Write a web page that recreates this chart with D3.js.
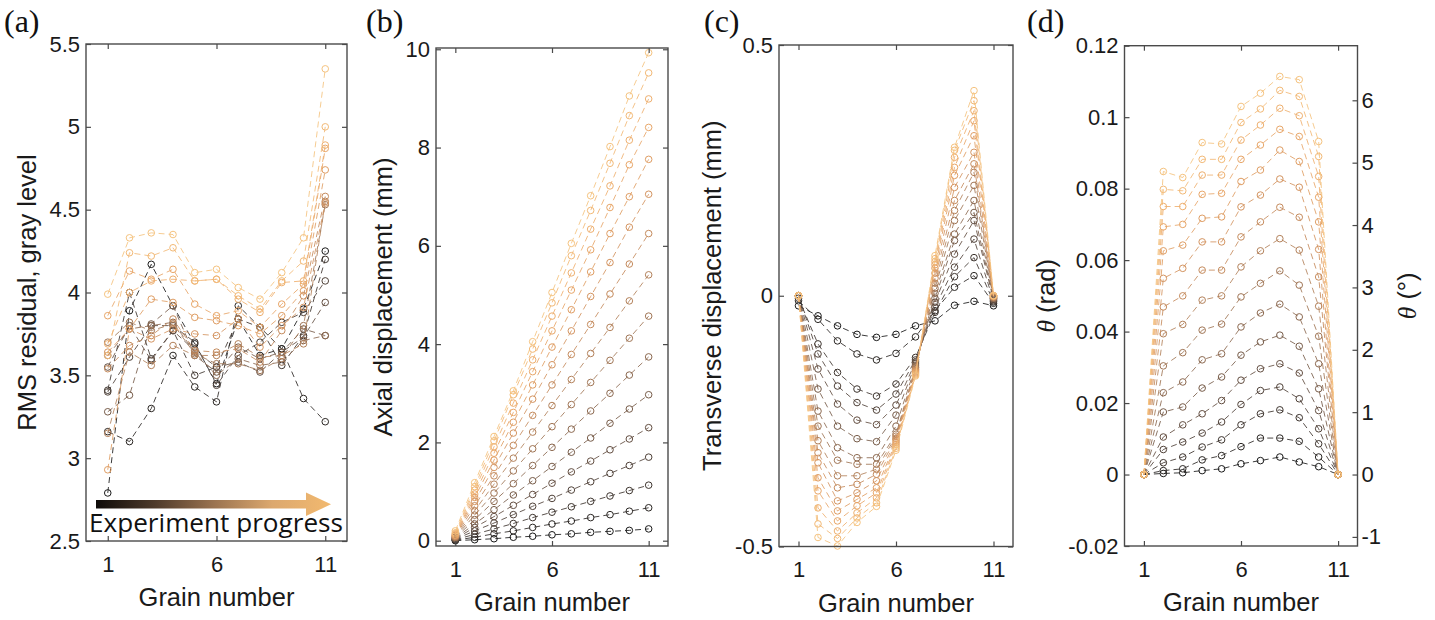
<!DOCTYPE html>
<html>
<head>
<meta charset="utf-8">
<script src="https://cdn.jsdelivr.net/npm/d3@7"></script>
<style>
  html, body { margin: 0; padding: 0; background: #fff; }
  svg { display: block; }
</style>
</head>
<body>
<svg id="fig" width="1435" height="620"></svg>
<script>
// Grain numbers along the column and the x tick values
const grains = [1, 2, 3, 4, 5, 6, 7, 8, 9, 10, 11];
const grainTicks = [1, 6, 11];

// (a) RMS residual of the correlation, gray level — one row per load step (early → late)
const rmsResidual = [
  [2.79, 3.89, 4.17, 3.92, 3.69, 3.45, 3.84, 3.62, 3.66, 3.90, 4.25],
  [3.16, 3.10, 3.30, 3.62, 3.43, 3.34, 3.92, 3.79, 3.66, 3.36, 3.22],
  [3.41, 4.00, 3.60, 3.77, 3.50, 3.55, 3.84, 3.79, 3.56, 3.74, 4.20],
  [3.40, 3.61, 3.80, 3.80, 3.70, 3.44, 3.62, 3.70, 3.82, 3.88, 4.07],
  [3.55, 3.80, 3.59, 3.77, 3.65, 3.55, 3.58, 3.52, 3.64, 3.73, 3.94],
  [3.28, 3.38, 3.81, 3.92, 3.62, 3.52, 3.67, 3.60, 3.64, 3.78, 3.74],
  [3.62, 3.78, 3.80, 3.82, 3.64, 3.50, 3.60, 3.56, 3.58, 3.71, 3.74],
  [3.70, 3.82, 3.77, 3.81, 3.63, 3.57, 3.57, 3.53, 3.60, 3.80, 4.53],
  [3.15, 3.64, 3.56, 3.68, 3.62, 3.62, 3.69, 3.61, 3.62, 3.69, 4.55],
  [3.54, 3.68, 3.74, 3.84, 3.65, 3.64, 3.66, 3.58, 3.77, 3.98, 4.58],
  [3.64, 3.78, 3.72, 3.78, 3.75, 3.74, 3.84, 3.67, 3.80, 3.91, 4.54],
  [2.93, 3.78, 3.96, 3.94, 3.85, 3.83, 3.80, 3.75, 3.86, 4.01, 4.74],
  [3.86, 4.13, 4.08, 4.14, 3.93, 3.86, 3.89, 3.79, 3.93, 4.05, 4.87],
  [3.69, 4.00, 4.07, 4.08, 4.07, 4.08, 3.96, 3.88, 4.06, 4.07, 4.89],
  [3.62, 4.24, 4.22, 4.27, 4.07, 4.08, 3.98, 3.90, 4.07, 4.19, 5.00],
  [3.99, 4.33, 4.36, 4.35, 4.12, 4.14, 4.03, 3.96, 4.12, 4.33, 5.35]
];
const rmsTicks = [2.5, 3, 3.5, 4, 4.5, 5, 5.5];

// (b) Axial displacement, mm
const axialDisp = [
  [0.00, 0.02, 0.04, 0.07, 0.09, 0.12, 0.14, 0.17, 0.19, 0.21, 0.24],
  [0.01, 0.07, 0.14, 0.20, 0.27, 0.34, 0.40, 0.47, 0.53, 0.60, 0.67],
  [0.02, 0.13, 0.24, 0.35, 0.47, 0.58, 0.69, 0.80, 0.91, 1.02, 1.13],
  [0.03, 0.20, 0.36, 0.53, 0.70, 0.86, 1.03, 1.20, 1.37, 1.53, 1.70],
  [0.04, 0.27, 0.49, 0.72, 0.94, 1.17, 1.40, 1.62, 1.85, 2.07, 2.30],
  [0.05, 0.34, 0.63, 0.93, 1.22, 1.51, 1.80, 2.09, 2.39, 2.68, 2.97],
  [0.06, 0.43, 0.80, 1.16, 1.53, 1.90, 2.27, 2.64, 3.00, 3.37, 3.74],
  [0.07, 0.52, 0.97, 1.42, 1.87, 2.32, 2.77, 3.22, 3.67, 4.12, 4.57],
  [0.08, 0.61, 1.15, 1.68, 2.21, 2.75, 3.28, 3.81, 4.34, 4.88, 5.41],
  [0.09, 0.71, 1.32, 1.94, 2.55, 3.17, 3.79, 4.40, 5.02, 5.63, 6.25],
  [0.10, 0.80, 1.49, 2.19, 2.88, 3.58, 4.27, 4.97, 5.66, 6.38, 7.05],
  [0.11, 0.88, 1.64, 2.41, 3.17, 3.94, 4.70, 5.47, 6.25, 7.00, 7.76],
  [0.12, 0.95, 1.78, 2.61, 3.44, 4.27, 5.10, 5.92, 6.78, 7.65, 8.41],
  [0.14, 1.03, 1.91, 2.80, 3.68, 4.57, 5.45, 6.34, 7.22, 8.15, 8.99],
  [0.16, 1.10, 2.03, 2.97, 3.90, 4.84, 5.80, 6.72, 7.68, 8.65, 9.52],
  [0.20, 1.18, 2.12, 3.05, 4.05, 5.05, 6.05, 7.02, 8.02, 9.05, 9.93]
];
const axialTicks = [0, 2, 4, 6, 8, 10];

// (c) Transverse displacement, mm
const transDisp = [
  [-0.020, -0.040, -0.060, -0.077, -0.083, -0.077, -0.060, -0.050, -0.019, -0.011, -0.020],
  [-0.010, -0.047, -0.090, -0.116, -0.128, -0.115, -0.082, -0.030, 0.017, 0.040, -0.015],
  [-0.005, -0.096, -0.153, -0.186, -0.200, -0.176, -0.123, -0.033, 0.038, 0.076, -0.012],
  [0.000, -0.116, -0.180, -0.213, -0.228, -0.196, -0.128, -0.023, 0.057, 0.113, -0.010],
  [0.000, -0.146, -0.216, -0.248, -0.257, -0.218, -0.132, -0.013, 0.083, 0.150, -0.008],
  [0.000, -0.186, -0.260, -0.285, -0.291, -0.238, -0.136, -0.005, 0.110, 0.166, -0.006],
  [0.000, -0.230, -0.303, -0.323, -0.323, -0.260, -0.140, 0.005, 0.123, 0.190, -0.005],
  [0.000, -0.260, -0.328, -0.336, -0.336, -0.276, -0.143, 0.015, 0.150, 0.220, -0.004],
  [0.000, -0.289, -0.359, -0.359, -0.346, -0.280, -0.146, 0.025, 0.170, 0.246, -0.003],
  [0.000, -0.313, -0.383, -0.376, -0.356, -0.284, -0.148, 0.035, 0.190, 0.263, -0.002],
  [0.000, -0.333, -0.409, -0.393, -0.369, -0.288, -0.150, 0.045, 0.216, 0.286, -0.002],
  [0.000, -0.363, -0.429, -0.406, -0.383, -0.292, -0.152, 0.055, 0.240, 0.319, 0.000],
  [0.000, -0.389, -0.449, -0.419, -0.393, -0.296, -0.154, 0.062, 0.256, 0.349, 0.000],
  [0.000, -0.423, -0.469, -0.433, -0.403, -0.300, -0.156, 0.068, 0.276, 0.369, 0.000],
  [0.000, -0.455, -0.484, -0.443, -0.413, -0.304, -0.158, 0.074, 0.290, 0.389, 0.000],
  [0.000, -0.482, -0.499, -0.452, -0.420, -0.308, -0.160, 0.080, 0.296, 0.409, 0.000]
];
const transTicks = [-0.5, 0, 0.5];

// (d) Grain rotation θ, rad
const rotation = [
  [0, 0.0003, 0.0005, 0.0011, 0.0016, 0.0030, 0.0039, 0.0049, 0.0035, 0.0022, 0],
  [0, 0.0011, 0.0016, 0.0041, 0.0053, 0.0078, 0.0102, 0.0102, 0.0093, 0.0049, 0],
  [0, 0.0033, 0.0049, 0.0077, 0.0097, 0.0139, 0.0170, 0.0181, 0.0159, 0.0086, 0],
  [0, 0.0070, 0.0091, 0.0116, 0.0147, 0.0196, 0.0235, 0.0245, 0.0212, 0.0128, 0],
  [0, 0.0105, 0.0139, 0.0170, 0.0207, 0.0264, 0.0296, 0.0310, 0.0284, 0.0179, 0],
  [0, 0.0175, 0.0189, 0.0242, 0.0273, 0.0334, 0.0371, 0.0390, 0.0359, 0.0240, 0],
  [0, 0.0229, 0.0259, 0.0321, 0.0338, 0.0413, 0.0452, 0.0477, 0.0441, 0.0310, 0],
  [0, 0.0304, 0.0341, 0.0404, 0.0421, 0.0497, 0.0535, 0.0570, 0.0530, 0.0387, 0],
  [0, 0.0394, 0.0420, 0.0488, 0.0500, 0.0581, 0.0626, 0.0660, 0.0628, 0.0471, 0],
  [0, 0.0469, 0.0500, 0.0572, 0.0572, 0.0665, 0.0707, 0.0748, 0.0720, 0.0553, 0],
  [0, 0.0549, 0.0577, 0.0651, 0.0651, 0.0749, 0.0782, 0.0827, 0.0804, 0.0630, 0],
  [0, 0.0626, 0.0642, 0.0717, 0.0721, 0.0820, 0.0852, 0.0908, 0.0876, 0.0707, 0],
  [0, 0.0693, 0.0700, 0.0784, 0.0787, 0.0882, 0.0922, 0.0966, 0.0946, 0.0776, 0],
  [0, 0.0750, 0.0750, 0.0838, 0.0838, 0.0936, 0.0978, 0.1025, 0.1004, 0.0834, 0],
  [0, 0.0798, 0.0794, 0.0882, 0.0882, 0.0985, 0.1023, 0.1075, 0.1058, 0.0890, 0],
  [0, 0.0848, 0.0831, 0.0929, 0.0925, 0.1030, 0.1067, 0.1114, 0.1105, 0.0932, 0]
];
const rotationTicks = [-0.02, 0, 0.02, 0.04, 0.06, 0.08, 0.1, 0.12];
const degreeTicks = [-1, 0, 1, 2, 3, 4, 5, 6];

// ---------------------------------------------------------------------------
const svg = d3.select("#fig");
svg.append("rect").attr("width", 1435).attr("height", 620).attr("fill", "#fff");

const SANS = "'Liberation Sans', Arial, sans-serif";
const SERIF = "'Liberation Serif', 'Times New Roman', serif";
const AXIS_COLOR = "#4a4a4a";
const TICK_FONT = 22;
const LABEL_FONT = 25.5;

// load-step colour ramp: black → brown → light orange
const ramp = d3.interpolateRgbBasis(["#1a1a1a", "#4d4039", "#8c6a52", "#c98d5e", "#eda564", "#f5c37f"]);
const stepColor = (i, n) => ramp(i / (n - 1));

const fmt = v => String(+v.toFixed(4));

const panels = [
  { tag: "(a)", tagX: 4, series: rmsResidual, yDomain: [2.5, 5.5], yTicks: rmsTicks,
    box: { l: 86, r: 347, t: 44, b: 541 }, yLabel: "RMS residual, gray level", yLabelX: 36 },
  { tag: "(b)", tagX: 366, series: axialDisp, yDomain: [-0.108, 10.026], yTicks: axialTicks,
    box: { l: 436, r: 668, t: 48, b: 546 }, yLabel: "Axial displacement (mm)", yLabelX: 392 },
  { tag: "(c)", tagX: 704, series: transDisp, yDomain: [-0.5, 0.5], yTicks: transTicks,
    box: { l: 779, r: 1013, t: 45, b: 546.5 }, yLabel: "Transverse displacement (mm)", yLabelX: 721 },
  { tag: "(d)", tagX: 1027, series: rotation, yDomain: [-0.02, 0.12], yTicks: rotationTicks,
    box: { l: 1124.5, r: 1357.5, t: 45.7, b: 546 }, yLabel: null, yLabelX: 1055, degrees: true }
];

panels.forEach(p => {
  const { l, r, t, b } = p.box;
  const x = d3.scaleLinear().domain([0, 12]).range([l, r]);
  const y = d3.scaleLinear().domain(p.yDomain).range([b, t]);
  const g = svg.append("g");

  // series: dashed lines with open circles, early steps drawn first
  const line = d3.line().x((d, i) => x(grains[i])).y(d => y(d));
  const n = p.series.length;
  const plot = g.append("g");
  p.series.forEach((vals, si) => {
    const c = stepColor(si, n);
    const sg = plot.append("g");
    sg.append("path")
      .attr("d", line(vals))
      .attr("fill", "none")
      .attr("stroke", c)
      .attr("stroke-width", 1)
      .attr("stroke-opacity", 0.85)
      .attr("stroke-dasharray", "6,4");
    sg.selectAll("circle").data(vals).join("circle")
      .attr("cx", (d, i) => x(grains[i]))
      .attr("cy", d => y(d))
      .attr("r", 3.3)
      .attr("fill", "none")
      .attr("stroke", c)
      .attr("stroke-width", 1);
  });

  // box
  g.append("rect")
    .attr("x", l).attr("y", t).attr("width", r - l).attr("height", b - t)
    .attr("fill", "none").attr("stroke", AXIS_COLOR).attr("stroke-width", 1.4);

  const styleAxis = sel => {
    sel.select(".domain").remove();
    sel.selectAll(".tick line").attr("stroke", AXIS_COLOR).attr("stroke-width", 1.2);
    sel.selectAll(".tick text").attr("fill", "#1a1a1a")
      .style("font-family", SANS).style("font-size", TICK_FONT + "px");
  };

  // bottom / top
  g.append("g").attr("transform", `translate(0,${b})`)
    .call(d3.axisBottom(x).tickValues(grainTicks).tickFormat(fmt).tickSize(-5).tickPadding(15))
    .call(styleAxis);
  g.append("g").attr("transform", `translate(0,${t})`)
    .call(d3.axisTop(x).tickValues(grainTicks).tickFormat("").tickSize(-5))
    .call(styleAxis);

  // left
  g.append("g").attr("transform", `translate(${l},0)`)
    .call(d3.axisLeft(y).tickValues(p.yTicks).tickFormat(fmt).tickSize(-5).tickPadding(6))
    .call(styleAxis);

  // right
  if (p.degrees) {
    const yDeg = d3.scaleLinear()
      .domain(p.yDomain.map(v => v * 180 / Math.PI)).range([b, t]);
    g.append("g").attr("transform", `translate(${r},0)`)
      .call(d3.axisRight(yDeg).tickValues(degreeTicks).tickFormat(fmt).tickSize(-5).tickPadding(4))
      .call(styleAxis);
  } else {
    g.append("g").attr("transform", `translate(${r},0)`)
      .call(d3.axisRight(y).tickValues(p.yTicks).tickFormat("").tickSize(-5))
      .call(styleAxis);
  }

  // x label
  g.append("text")
    .attr("x", (l + r) / 2).attr("y", b + 65)
    .attr("text-anchor", "middle")
    .style("font-family", SANS).style("font-size", LABEL_FONT + "px").attr("fill", "#1a1a1a")
    .text("Grain number");

  // y label(s)
  const cy = (t + b) / 2;
  if (p.yLabel) {
    g.append("text")
      .attr("transform", `translate(${p.yLabelX},${cy}) rotate(-90)`)
      .attr("text-anchor", "middle")
      .style("font-family", SANS).style("font-size", LABEL_FONT + "px").attr("fill", "#1a1a1a")
      .text(p.yLabel);
  } else {
    const lab = (xPos, unit) => {
      const tx = g.append("text")
        .attr("transform", `translate(${xPos},${cy}) rotate(-90)`)
        .attr("text-anchor", "middle")
        .style("font-size", LABEL_FONT + "px").attr("fill", "#1a1a1a");
      tx.append("tspan").style("font-family", SERIF).style("font-style", "italic").text("θ");
      tx.append("tspan").style("font-family", SANS).text(" " + unit);
    };
    lab(p.yLabelX, "(rad)");
    lab(1416, "(°)");
  }

  // panel tag
  svg.append("text")
    .attr("x", p.tagX).attr("y", 32)
    .style("font-family", SERIF).style("font-size", "32px").attr("fill", "#111")
    .text(p.tag);

  // progress arrow inside panel (a)
  if (p.tag === "(a)") {
    const defs = svg.append("defs");
    const grad = defs.append("linearGradient").attr("id", "progressGrad")
      .attr("gradientUnits", "userSpaceOnUse")
      .attr("x1", l + 10).attr("x2", r - 16).attr("y1", 0).attr("y2", 0);
    [["0%", "#0e0b09"], ["25%", "#4e3a2a"], ["50%", "#9a7350"], ["75%", "#dca86e"], ["100%", "#f2b96f"]]
      .forEach(([o, c]) => grad.append("stop").attr("offset", o).attr("stop-color", c));
    const ax0 = l + 10, ax1 = r - 41, tip = r - 16, ay = 504.3, hw = 4.2, hh = 11.8;
    g.append("path")
      .attr("d", `M${ax0},${ay - hw} L${ax1},${ay - hw} L${ax1},${ay - hh} L${tip},${ay} L${ax1},${ay + hh} L${ax1},${ay + hw} L${ax0},${ay + hw} Z`)
      .attr("fill", "url(#progressGrad)");
    g.append("text")
      .attr("x", l + 3).attr("y", 531.5)
      .attr("textLength", 254).attr("lengthAdjust", "spacingAndGlyphs")
      .style("font-family", "'Open Sans', 'Noto Sans', sans-serif").style("font-size", "25px")
      .attr("fill", "#111")
      .text("Experiment progress");
  }
});
</script>
</body>
</html>
